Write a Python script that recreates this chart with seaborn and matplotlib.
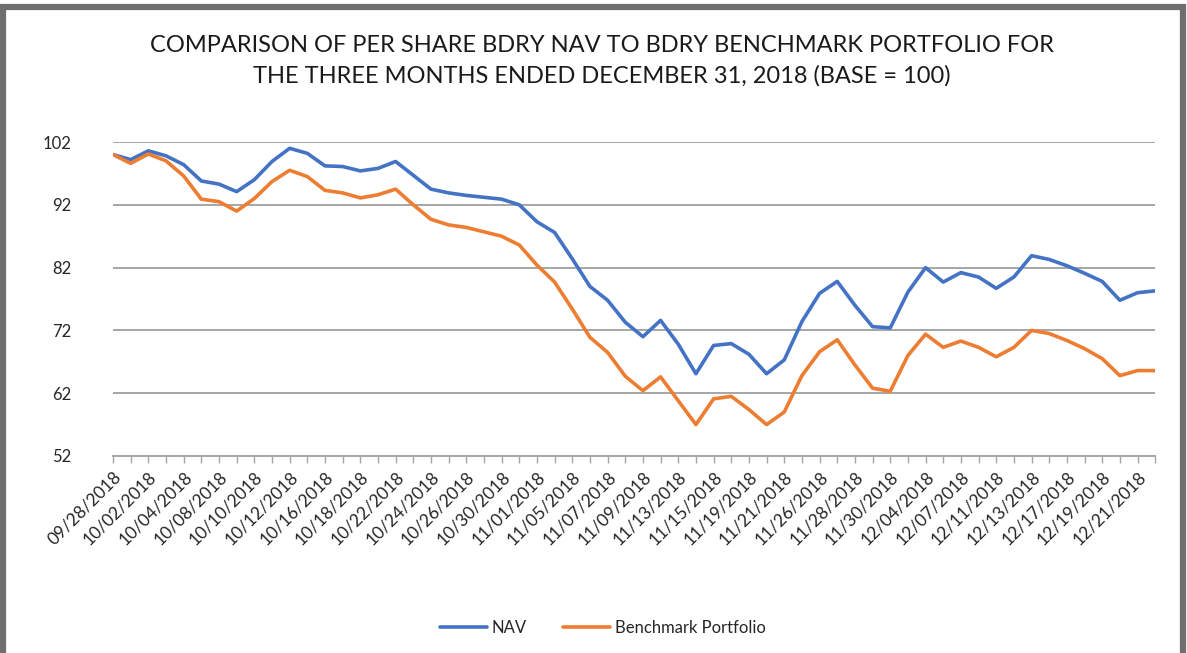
import pandas as pd
import matplotlib
matplotlib.use("Agg")
import matplotlib.pyplot as plt
import seaborn as sns
from matplotlib.patches import Rectangle

# -----------------------------
# DATA
# -----------------------------
dates = [
    "09/28/2018", "10/01/2018", "10/02/2018", "10/03/2018", "10/04/2018", "10/05/2018",
    "10/08/2018", "10/09/2018", "10/10/2018", "10/11/2018", "10/12/2018", "10/15/2018",
    "10/16/2018", "10/17/2018", "10/18/2018", "10/19/2018", "10/22/2018", "10/23/2018",
    "10/24/2018", "10/25/2018", "10/26/2018", "10/29/2018", "10/30/2018", "10/31/2018",
    "11/01/2018", "11/02/2018", "11/05/2018", "11/06/2018", "11/07/2018", "11/08/2018",
    "11/09/2018", "11/12/2018", "11/13/2018", "11/14/2018", "11/15/2018", "11/16/2018",
    "11/19/2018", "11/20/2018", "11/21/2018", "11/23/2018", "11/26/2018", "11/27/2018",
    "11/28/2018", "11/29/2018", "11/30/2018", "12/03/2018", "12/04/2018", "12/06/2018",
    "12/07/2018", "12/10/2018", "12/11/2018", "12/12/2018", "12/13/2018", "12/14/2018",
    "12/17/2018", "12/18/2018", "12/19/2018", "12/20/2018", "12/21/2018", "12/24/2018",
]

nav = [
    100.0, 99.2, 100.6, 99.8, 98.4, 95.8, 95.3, 94.1, 96.0, 98.9,
    101.0, 100.2, 98.2, 98.1, 97.4, 97.8, 98.9, 96.7, 94.5, 93.9,
    93.5, 93.2, 92.9, 92.0, 89.3, 87.6, 83.4, 79.0, 76.8, 73.3,
    71.0, 73.6, 69.8, 65.1, 69.6, 69.9, 68.2, 65.1, 67.3, 73.4,
    77.9, 79.8, 76.0, 72.6, 72.4, 78.1, 82.0, 79.7, 81.2, 80.5,
    78.7, 80.5, 83.9, 83.3, 82.3, 81.1, 79.8, 76.8, 78.0, 78.3,
]

benchmark = [
    100.0, 98.6, 100.1, 99.0, 96.6, 92.9, 92.5, 91.0, 93.0, 95.7,
    97.5, 96.5, 94.3, 93.9, 93.1, 93.6, 94.5, 92.0, 89.7, 88.8,
    88.4, 87.7, 87.0, 85.6, 82.4, 79.7, 75.4, 70.9, 68.5, 64.7,
    62.4, 64.6, 60.8, 57.0, 61.1, 61.5, 59.4, 57.0, 59.0, 64.8,
    68.6, 70.5, 66.5, 62.8, 62.3, 68.0, 71.4, 69.3, 70.3, 69.3,
    67.8, 69.3, 72.0, 71.5, 70.4, 69.1, 67.5, 64.8, 65.6, 65.6,
]

series_names = ["NAV", "Benchmark Portfolio"]
y_ticks = [52, 62, 72, 82, 92, 102]

# -----------------------------
# CONFIG
# -----------------------------
sns.set_theme(style="white")
plt.rcParams["font.family"] = ["Lato", "DejaVu Sans"]

COLORS = {"NAV": "#4472C4", "Benchmark Portfolio": "#ED7D31"}

# -----------------------------
# BUILD TABLE
# -----------------------------
idx = list(range(len(dates)))
df = pd.concat([
    pd.DataFrame({"idx": idx, "Date": dates, "Value": nav, "Series": series_names[0]}),
    pd.DataFrame({"idx": idx, "Date": dates, "Value": benchmark, "Series": series_names[1]}),
])

# -----------------------------
# PLOT
# -----------------------------
fig = plt.figure(figsize=(11.87, 6.53), dpi=100)
ax = fig.add_axes([0.0952, 0.3017, 0.878, 0.4808])

sns.lineplot(
    data=df, x="idx", y="Value", hue="Series",
    palette=COLORS, linewidth=2.6, ax=ax, legend=True,
)

ax.set_xlim(0, len(dates) - 1)
ax.set_ylim(52, 102)
ax.set_yticks(y_ticks)
ax.yaxis.grid(True, color="#a6a6a6", linewidth=1.4)
ax.set_axisbelow(True)

ax.set_xticks(idx)
ax.set_xticklabels([d if i % 2 == 0 else "" for i, d in enumerate(dates)],
                   rotation=45, ha="right", rotation_mode="anchor")
ax.tick_params(axis="x", which="major", direction="out", length=5, width=1,
               color="#a6a6a6", labelsize=12.5, labelcolor="#262626", pad=4, bottom=True)
ax.tick_params(axis="y", length=0, labelsize=12, labelcolor="#262626", pad=30)

for s in ["left", "right", "top"]:
    ax.spines[s].set_visible(False)
ax.spines["bottom"].set_color("#a6a6a6")
ax.spines["bottom"].set_linewidth(1.4)
ax.set_xlabel("")
ax.set_ylabel("")

fig.text(0.507, 0.907,
         "COMPARISON OF PER SHARE BDRY NAV TO BDRY BENCHMARK PORTFOLIO FOR\n"
         "THE THREE MONTHS ENDED DECEMBER 31, 2018 (BASE = 100)",
         ha="center", va="center", fontsize=17, color="#1a1a1a", linespacing=1.55)

ax.get_legend().remove()
handles, labels = ax.get_legend_handles_labels()
fig.legend(handles, labels, loc="center", bbox_to_anchor=(0.508, 0.038), ncol=2,
           frameon=False, fontsize=12, handlelength=2.8, handletextpad=0.3,
           columnspacing=2.2)

# grey frame around the chart (open at the bottom like the screenshot)
fig.add_artist(Rectangle((0.0025, -0.05), 0.994, 1.04, transform=fig.transFigure,
                         fill=False, edgecolor="#6e6e6e", linewidth=4.5))

fig.savefig("out.png", dpi=100)
plt.close(fig)
